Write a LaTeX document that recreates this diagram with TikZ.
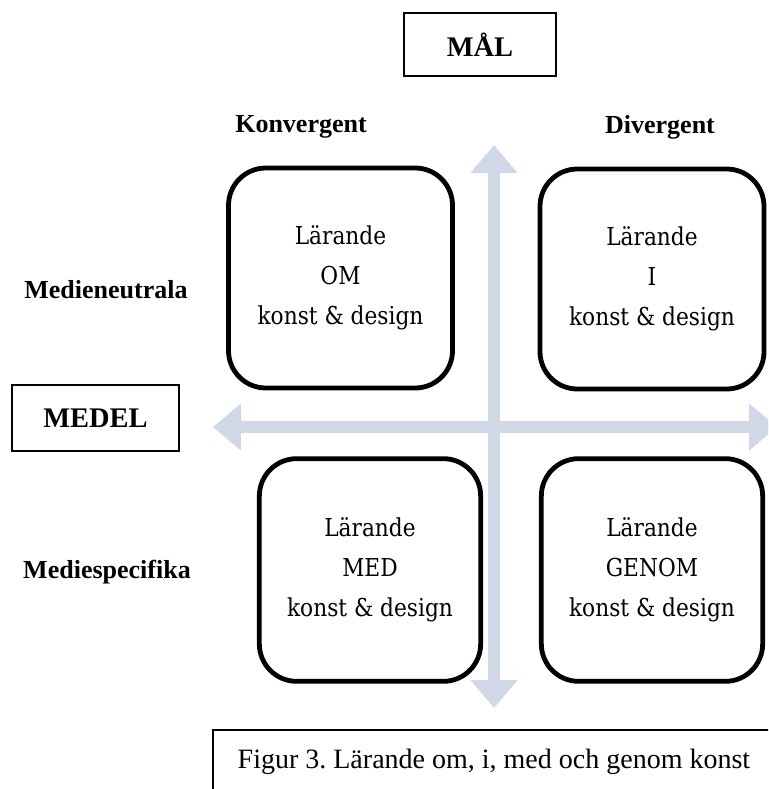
\documentclass[tikz,border=0pt]{standalone}
\usepackage{fontspec}
\setmainfont{Liberation Serif}
\newfontfamily\boxfont[FakeStretch=0.88]{DejaVu Serif}
\usetikzlibrary{arrows.meta}
\definecolor{axisblue}{RGB}{208,215,230}
\begin{document}
\frenchspacing
\begin{tikzpicture}[x=0.75pt,y=-0.75pt,
  quad/.style={draw, fill=white, line width=3.6pt, rounded corners=28pt,
    minimum width=168pt, minimum height=165pt, align=center,
    font=\boxfont\fontsize{18.5}{30}\selectfont},
  headbox/.style={draw, line width=1.5pt, inner sep=0pt,
    font=\bfseries\fontsize{21.3}{24}\selectfont},
  sidelabel/.style={font=\bfseries\fontsize{19.5}{22}\selectfont},
  axis/.style={draw=axisblue, line width=9pt,
    {Triangle[width=34pt,length=21pt]}-{Triangle[width=34pt,length=21pt]}},
  captionline/.style={line width=1.5pt},
  captiontext/.style={font=\fontsize{21}{24}\selectfont, anchor=base west}]
\useasboundingbox (0,0) rectangle (768,789);
\clip (0,0) rectangle (768,789);
% axes
\coordinate (vtop) at (494,145);
\coordinate (vbot) at (494,708);
\coordinate (hleft) at (213,427);
\coordinate (hright) at (777,427);
\draw[axis] (vtop) -- (vbot);
\draw[axis] (hleft) -- (hright);
% heading boxes
\node[headbox, minimum width=114pt, minimum height=47pt] (mal) at (480,44.5) {MÅL};
\node[headbox, minimum width=125pt, minimum height=49pt] (medel) at (95.5,418) {MEDEL};
% side labels
\node[sidelabel] (konv) at (301,127) {Konvergent};
\node[sidelabel] (div) at (660,127) {Divergent};
\node[sidelabel] (neut) at (106,290) {Medieneutrala};
\node[sidelabel] (spec) at (107,572) {Mediespecifika};
% quadrant boxes
\node[quad] (om) at (340.5,278) {Lärande\\OM\\konst \& design};
\node[quad] (i) at (652,279) {Lärande\\I\\konst \& design};
\node[quad, minimum width=166pt, minimum height=167pt] (med) at (370,570) {Lärande\\MED\\konst \& design};
\node[quad, minimum width=166pt, minimum height=167pt] (genom) at (652,570) {Lärande\\GENOM\\konst \& design};
% caption
\coordinate (capbl) at (213,800);
\coordinate (captl) at (213,730);
\coordinate (captr) at (800,730);
\draw[captionline] (capbl) -- (captl) -- (captr);
\node[captiontext] (cap) at (233,768) {Figur 3. Lärande om, i, med och genom konst};
\end{tikzpicture}
\end{document}
